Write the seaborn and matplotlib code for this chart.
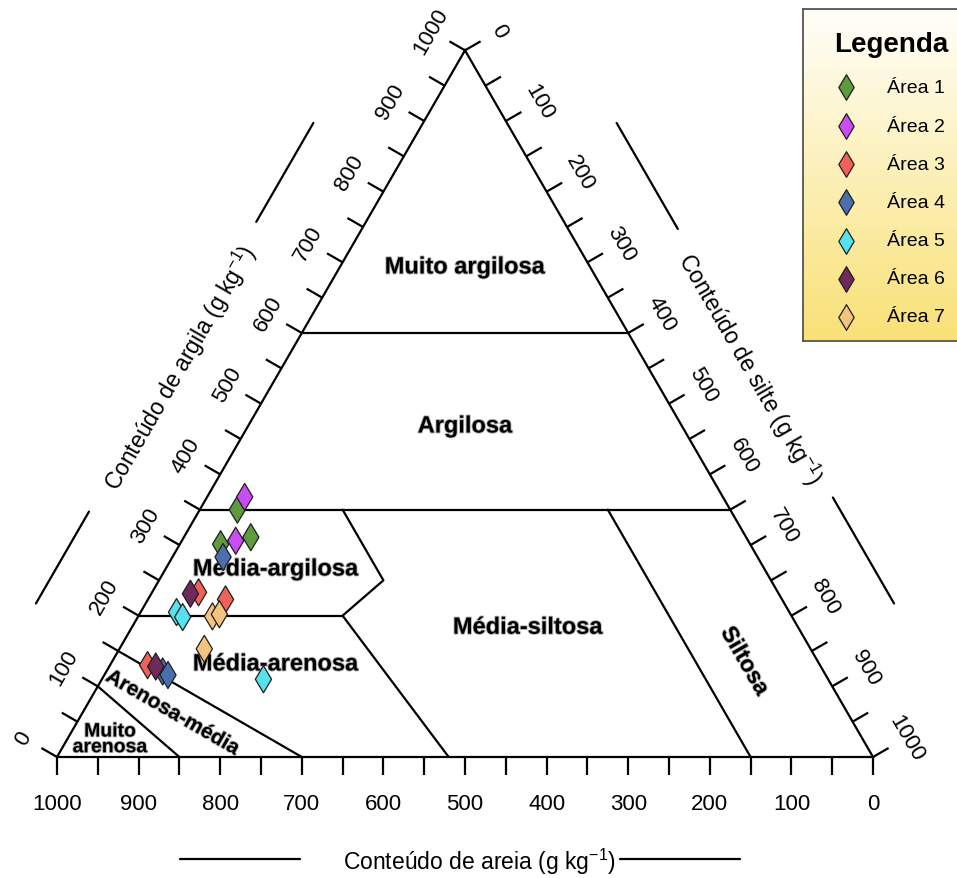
import numpy as np
import pandas as pd
import matplotlib
matplotlib.use("Agg")
import matplotlib.pyplot as plt
import seaborn as sns
from matplotlib import patheffects as pe

sns.set_theme(style="white")
plt.rcParams["font.family"] = ["Liberation Sans", "DejaVu Sans"]
plt.rcParams["mathtext.default"] = "regular"
plt.rcParams["text.color"] = "black"

# ---- samples (g/kg) ----
area = ["Área 1", "Área 1", "Área 1",
        "Área 2", "Área 2",
        "Área 3", "Área 3", "Área 3",
        "Área 4", "Área 4", "Área 4",
        "Área 5", "Área 5", "Área 5",
        "Área 6", "Área 6",
        "Área 7", "Área 7", "Área 7"]
sand = [604, 649, 607,
        586, 628,
        710, 682, 824,
        655, 810, 806,
        751, 747, 692,
        721, 815,
        710, 700, 743]
silt = [46, 50, 82,
        46, 66,
        57, 95, 46,
        62, 69, 78,
        44, 55, 198,
        48, 57,
        91, 98, 104]
clay = [350, 301, 311,
        368, 306,
        233, 223, 130,
        283, 121, 116,
        205, 198, 110,
        231, 128,
        199, 202, 153]

area_names = ["Área 1", "Área 2", "Área 3", "Área 4", "Área 5", "Área 6", "Área 7"]
area_colors = ["#5E9B3E", "#C94DF2", "#EF6159", "#4B6EAC", "#55E2EE", "#6D2A5B", "#F4C47E"]

tick_values = list(range(0, 1001, 100))

# ---- textural class boundaries (sand, silt, clay) ----
boundaries = [
    [(400, 0, 600), (0, 400, 600)],
    [(650, 0, 350), (0, 650, 350)],
    [(800, 0, 200), (550, 250, 200)],
    [(475, 175, 350), (475, 275, 250), (550, 250, 200), (520, 480, 0)],
    [(150, 500, 350), (150, 850, 0)],
    [(850, 0, 150), (700, 300, 0)],
    [(900, 0, 100), (850, 150, 0)],
]

SQ = np.sqrt(3) / 2
PX = 1 / 816.0  # one pixel in triangle units


def to_xy(sa, si, cl):
    sa, si, cl = (np.asarray(v, dtype=float) for v in (sa, si, cl))
    tot = sa + si + cl
    return (si + cl / 2) / tot, cl / tot * SQ


fig = plt.figure(figsize=(9.57, 8.79), dpi=100)
ax = fig.add_axes([0, 0, 1, 1])
ax.set_xlim(-57 * PX, 900 * PX)
ax.set_ylim(-121 * PX, 758 * PX)
ax.axis("off")

lw = 1.6
# outline
ox, oy = to_xy([1000, 0, 0, 1000], [0, 1000, 0, 0], [0, 0, 1000, 0])
ax.plot(ox, oy, color="black", lw=lw, solid_joinstyle="miter", zorder=3)
for seg in boundaries:
    sa, si, cl = zip(*seg)
    bx, by = to_xy(sa, si, cl)
    ax.plot(bx, by, color="black", lw=lw, zorder=3)

# ticks and tick labels
n_bottom = np.array([0.0, -1.0])
n_left = np.array([-SQ, 0.5])
n_right = np.array([SQ, 0.5])
tick_len = 18 * PX
lab_off = 39 * PX
for v in range(0, 1001, 50):
    bx, by = to_xy(v, 1000 - v, 0)
    lx, ly = to_xy(1000 - v, 0, v)
    rx, ry = to_xy(0, v, 1000 - v)
    for (px_, py_), n in (((bx, by), n_bottom), ((lx, ly), n_left), ((rx, ry), n_right)):
        ax.plot([px_, px_ + n[0] * tick_len], [py_, py_ + n[1] * tick_len],
                color="black", lw=lw, zorder=3, solid_capstyle="butt")

tick_fs = 16
for v in tick_values:
    bx, by = to_xy(v, 1000 - v, 0)
    ax.text(bx, by - 47 * PX, str(v), ha="center", va="center", fontsize=tick_fs)
    lx, ly = to_xy(1000 - v, 0, v)
    ax.text(lx + n_left[0] * lab_off, ly + n_left[1] * lab_off, str(v), ha="center",
            va="center", rotation=60, rotation_mode="anchor", fontsize=tick_fs)
    rx, ry = to_xy(0, v, 1000 - v)
    ax.text(rx + n_right[0] * lab_off, ry + n_right[1] * lab_off, str(v), ha="center",
            va="center", rotation=-60, rotation_mode="anchor", fontsize=tick_fs)

# axis titles with flanking rules
title_fs = 16.5
unit = r" (g kg$^{-1}$)"
off_t, off_l = 88 * PX, 95 * PX


def left_pt(t, off):
    return np.array([t / 2, t * SQ]) + n_left * off


def right_pt(s, off):
    return np.array([0.5 + s / 2, (1 - s) * SQ]) + n_right * off


p = left_pt(0.49, off_t)
ax.text(p[0], p[1], "Conteúdo de argila" + unit, rotation=60, rotation_mode="anchor",
        ha="center", va="center", fontsize=title_fs)
for a, b in ((0.15, 0.28), (0.69, 0.83)):
    p1, p2 = left_pt(a, off_l), left_pt(b, off_l)
    ax.plot([p1[0], p2[0]], [p1[1], p2[1]], color="black", lw=lw)

p = right_pt(0.512, off_t)
ax.text(p[0], p[1], "Conteúdo de silte" + unit, rotation=-60, rotation_mode="anchor",
        ha="center", va="center", fontsize=title_fs)
for a, b in ((0.17, 0.32), (0.70, 0.85)):
    p1, p2 = right_pt(a, off_l), right_pt(b, off_l)
    ax.plot([p1[0], p2[0]], [p1[1], p2[1]], color="black", lw=lw)

ax.text(0.518, -104 * PX, "Conteúdo de areia" + unit, ha="center", va="center",
        fontsize=title_fs)
for a, b in ((0.151, 0.298), (0.69, 0.837)):
    ax.plot([a, b], [-102 * PX, -102 * PX], color="black", lw=lw)

# class names
halo = [pe.withStroke(linewidth=1.3, foreground="#b5b5b5")]
class_labels = [
    ("Muito argilosa", 0.500, 0.6005, 0, 17),
    ("Argilosa", 0.500, 0.4056, 0, 17),
    ("Média-argilosa", 0.268, 0.2304, 0, 17),
    ("Média-siltosa", 0.577, 0.159, 0, 17),
    ("Média-arenosa", 0.268, 0.114, 0, 17),
    ("Siltosa", 0.843, 0.118, -60, 16.5),
    ("Arenosa-média", 0.142, 0.054, -30, 15),
]
for txt, x, y, rot, fs in class_labels:
    ax.text(x, y, txt, ha="center", va="center", rotation=rot, rotation_mode="anchor",
            fontsize=fs, fontweight="bold", color="black", path_effects=halo, zorder=4)
ax.text(0.065, 0.021, "Muito\narenosa", ha="center", va="center", fontsize=14,
        fontweight="bold", color="black", linespacing=0.9, path_effects=halo, zorder=4)

# sample points
sx, sy = to_xy(sand, silt, clay)
df = pd.DataFrame({"x": sx, "y": sy, "Área": area})
palette = dict(zip(area_names, area_colors))
sns.scatterplot(data=df, x="x", y="y", hue="Área", palette=palette, marker="d",
                s=190, edgecolor="#1e1e1e", linewidth=0.9, legend=False, ax=ax, zorder=5)
ax.set_xlabel("")
ax.set_ylabel("")

# legend box with vertical gradient
W, H = 957, 879
lx0, ly0, lw_px, lh_px = 803, 10, 170, 332
lax = fig.add_axes([lx0 / W, 1 - (ly0 + lh_px) / H, lw_px / W, lh_px / H])
top = np.array([255, 255, 250]) / 255
bot = np.array([249, 225, 118]) / 255
g = np.linspace(0, 1, 256)[:, None]
grad = (top[None, None, :] * (1 - g[..., None]) + bot[None, None, :] * g[..., None])
grad = np.repeat(grad, 2, axis=1)
lax.imshow(grad, extent=[0, 1, 0, 1], aspect="auto", origin="upper", zorder=0)
lax.set_xlim(0, 1)
lax.set_ylim(0, 1)
lax.set_xticks([])
lax.set_yticks([])
for sp in lax.spines.values():
    sp.set_color("#555555")
    sp.set_linewidth(1.3)
    sp.set_visible(True)

lax.text((891 - lx0) / lw_px, (ly0 + lh_px - 45) / lh_px, "Legenda", ha="center",
         va="center", fontsize=20, fontweight="bold")
entry_y = [88, 127, 165, 203, 242, 280, 318]
for name, col, ypx in zip(area_names, area_colors, entry_y):
    yy = (ly0 + lh_px - ypx) / lh_px
    lax.scatter([(846 - lx0) / lw_px], [yy], marker="d", s=170, color=col,
                edgecolor="#1e1e1e", linewidth=0.9, zorder=3)
    lax.text((887 - lx0) / lw_px, yy, name, ha="left", va="center", fontsize=14)

fig.savefig("out.png", dpi=100, facecolor="white")
